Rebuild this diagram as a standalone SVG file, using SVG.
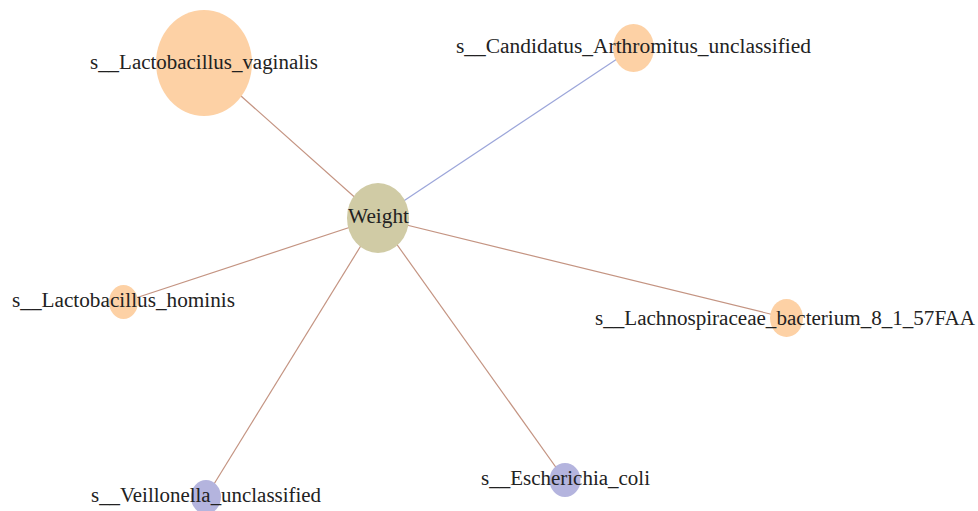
<svg xmlns="http://www.w3.org/2000/svg" width="978" height="511" viewBox="0 0 978 511">
<style>
.e{stroke-width:1.2;fill:none}
.pos{stroke:#c49482}
.neg{stroke:#9ca6da}
.o{fill:#fdd1a5}
.p{fill:#b4b4de}
.w{fill:#d0cba5}
text{font-family:"Liberation Serif","DejaVu Serif",serif;font-size:20px;fill:#222}
</style>
<rect width="978" height="511" fill="#fff"/>
<g id="connectors">
<line class="e pos" x1="378" y1="218" x2="204" y2="63"/>
<line class="e neg" x1="378" y1="218" x2="633.5" y2="48"/>
<line class="e pos" x1="378" y1="218" x2="123.5" y2="302"/>
<line class="e pos" x1="378" y1="218" x2="786.5" y2="318"/>
<line class="e pos" x1="378" y1="218" x2="206" y2="497"/>
<line class="e pos" x1="378" y1="218" x2="565" y2="480"/>
</g>
<g id="n_vaginalis"><ellipse class="o" cx="204" cy="63" rx="48" ry="53"/><text x="90" y="69" textLength="228" lengthAdjust="spacingAndGlyphs">s__Lactobacillus_vaginalis</text></g>
<g id="n_candidatus"><ellipse class="o" cx="633.5" cy="48" rx="20.5" ry="24"/><text x="456" y="53" textLength="355" lengthAdjust="spacingAndGlyphs">s__Candidatus_Arthromitus_unclassified</text></g>
<g id="n_hominis"><ellipse class="o" cx="123.5" cy="302" rx="14.5" ry="17"/><text x="12" y="307" textLength="223" lengthAdjust="spacingAndGlyphs">s__Lactobacillus_hominis</text></g>
<g id="n_lachno"><ellipse class="o" cx="786.5" cy="318" rx="16.5" ry="19"/><text x="595" y="325" textLength="380" lengthAdjust="spacingAndGlyphs">s__Lachnospiraceae_bacterium_8_1_57FAA</text></g>
<g id="n_veillonella"><ellipse class="p" cx="206" cy="497" rx="15" ry="17"/><text x="91" y="502" textLength="230" lengthAdjust="spacingAndGlyphs">s__Veillonella_unclassified</text></g>
<g id="n_ecoli"><ellipse class="p" cx="565" cy="480" rx="15.5" ry="17"/><text x="481" y="485" textLength="169" lengthAdjust="spacingAndGlyphs">s__Escherichia_coli</text></g>
<g id="n_weight"><ellipse class="w" cx="378" cy="218" rx="31" ry="35"/><text x="348" y="223" textLength="61" lengthAdjust="spacingAndGlyphs">Weight</text></g>
</svg>
